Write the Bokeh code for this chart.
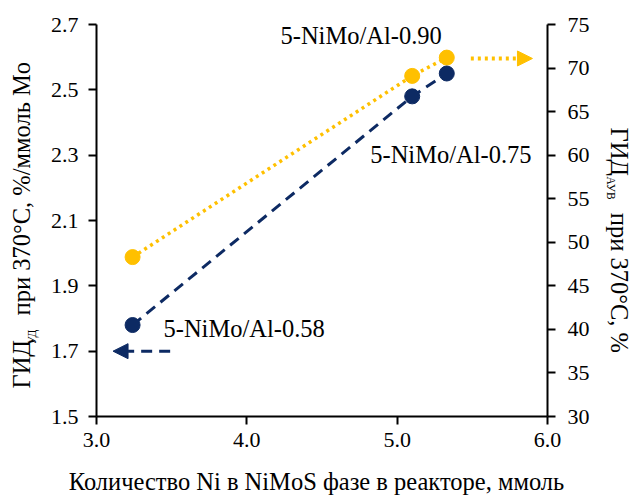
import math
from bokeh.plotting import figure
from bokeh.models import (Range1d, LinearAxis, FixedTicker, Label, Arrow, NormalHead,
                          NumeralTickFormatter)
from bokeh.embed import file_html
from bokeh.resources import INLINE

# ---- data ----
ni_amount = [3.24, 5.10, 5.33]            # mmol Ni in NiMoS phase
hyd_specific = [1.78, 2.48, 2.55]         # left axis, %/mmol Mo
hyd_aromatic = [48.3, 69.1, 71.2]         # right axis, %
sample_names = ["5-NiMo/Al-0.58", "5-NiMo/Al-0.75", "5-NiMo/Al-0.90"]
x_ticks = [3.0, 4.0, 5.0, 6.0]
left_ticks = [1.5, 1.7, 1.9, 2.1, 2.3, 2.5, 2.7]
right_ticks = [30, 35, 40, 45, 50, 55, 60, 65, 70, 75]

NAVY = "#0d2a63"
GOLD = "#ffc000"
FONT = "'Liberation Serif', 'Times New Roman', serif"
FS_TICK = "22px"
FS = "24.5px"
SUB = "11.5px"
NB = "\u00a0"

W, H = 632, 496
FL, FR, FT, FB = 96, 547, 24, 416   # frame edges in canvas pixels

p = figure(width=W, height=H, output_backend="svg", toolbar_location=None,
           x_range=Range1d(3.0, 6.0), y_range=Range1d(1.5, 2.7),
           min_border_left=FL, min_border_right=W - FR, min_border_top=FT,
           min_border_bottom=H - FB)
p.extra_y_ranges = {"right": Range1d(30, 75)}
p.outline_line_color = None
p.xgrid.visible = False
p.ygrid.visible = False

right_axis = LinearAxis(y_range_name="right")
p.add_layout(right_axis, "right")

for ax in [p.xaxis[0], p.yaxis[0], right_axis]:
    ax.axis_line_color = "black"
    ax.axis_line_width = 2
    ax.major_tick_line_color = "black"
    ax.major_tick_line_width = 2
    ax.major_tick_out = 8
    ax.major_tick_in = 0
    ax.minor_tick_line_color = None
    ax.major_label_text_font = FONT
    ax.major_label_text_font_size = FS_TICK
    ax.major_label_text_color = "black"

p.xaxis[0].ticker = FixedTicker(ticks=x_ticks)
p.xaxis[0].formatter = NumeralTickFormatter(format="0.0")
p.xaxis[0].major_label_standoff = 8
p.yaxis[0].ticker = FixedTicker(ticks=left_ticks)
p.yaxis[0].formatter = NumeralTickFormatter(format="0.0")
p.yaxis[0].major_label_standoff = 10
right_axis.ticker = FixedTicker(ticks=right_ticks)
right_axis.major_label_standoff = 12

# series lines and points
p.line(ni_amount, hyd_specific, line_color=NAVY, line_width=3, line_dash="11 7")
p.line(ni_amount, hyd_aromatic, line_color=GOLD, line_width=3.5, line_dash="3 4",
       y_range_name="right")
p.scatter(ni_amount, hyd_aromatic, size=15, fill_color=GOLD, line_color=GOLD,
          y_range_name="right")
p.scatter(ni_amount, hyd_specific, size=15, fill_color=NAVY, line_color=NAVY)

# axis-direction arrows
navy_arrow_x = [3.49, 3.11]
navy_arrow_y = 1.70
gold_arrow_x = [5.49, 5.90]
gold_arrow_y = 71.1
p.add_layout(Arrow(end=NormalHead(size=15, fill_color=NAVY, line_color=NAVY),
                   x_start=navy_arrow_x[0], y_start=navy_arrow_y,
                   x_end=navy_arrow_x[1], y_end=navy_arrow_y,
                   line_color=NAVY, line_width=3, line_dash="11 7"))
p.add_layout(Arrow(end=NormalHead(size=15, fill_color=GOLD, line_color=GOLD),
                   x_start=gold_arrow_x[0], y_start=gold_arrow_y,
                   x_end=gold_arrow_x[1], y_end=gold_arrow_y,
                   line_color=GOLD, line_width=4, line_dash="3 4", y_range_name="right"))

# pixel -> data helpers for placing annotations
def px2x(px):
    return 3.0 + (px - FL) * 3.0 / (FR - FL)

def py2l(py):
    return 1.5 + (FB - py) * 1.2 / (FB - FT)

def py2r(py):
    return 30 + (FB - py) * 45.0 / (FB - FT)

def lab(text, x, y, align="left", size=FS, angle=0.0, place="center", **kw):
    p.add_layout(Label(x=x, y=y, text=text, text_font=FONT, text_font_size=size,
                       text_align=align, text_baseline="middle", text_color="black",
                       angle=angle, **kw), place)

lab(sample_names[0], px2x(163), py2l(327.5))
lab(sample_names[1], px2x(531), py2l(154), align="right")
lab(sample_names[2], px2x(280), py2l(34.5))

# x axis title
lab("Количество Ni в NiMoS фазе в реакторе, ммоль", px2x(316), py2l(481), align="center",
    place="below")

# left axis title (reads bottom to top), subscript drawn separately
up = math.pi / 2
lab("ГИД" + NB * 4 + "при 370°C, %/ммоль Mo", px2x(20.5), py2l(388), angle=up, place="left")
lab("УД", px2x(31), py2l(344), angle=up, size=SUB, place="left")
# right axis title (reads top to bottom)
dn = -math.pi / 2
lab("ГИД" + NB * 6 + "при 370°C, %", px2x(618.5), py2r(127), angle=dn, place="right",
    y_range_name="right")
lab("АУВ", px2x(610), py2r(176), angle=dn, size=SUB, place="above", y_range_name="right")

open("out.html", "w").write(file_html(p, INLINE))
